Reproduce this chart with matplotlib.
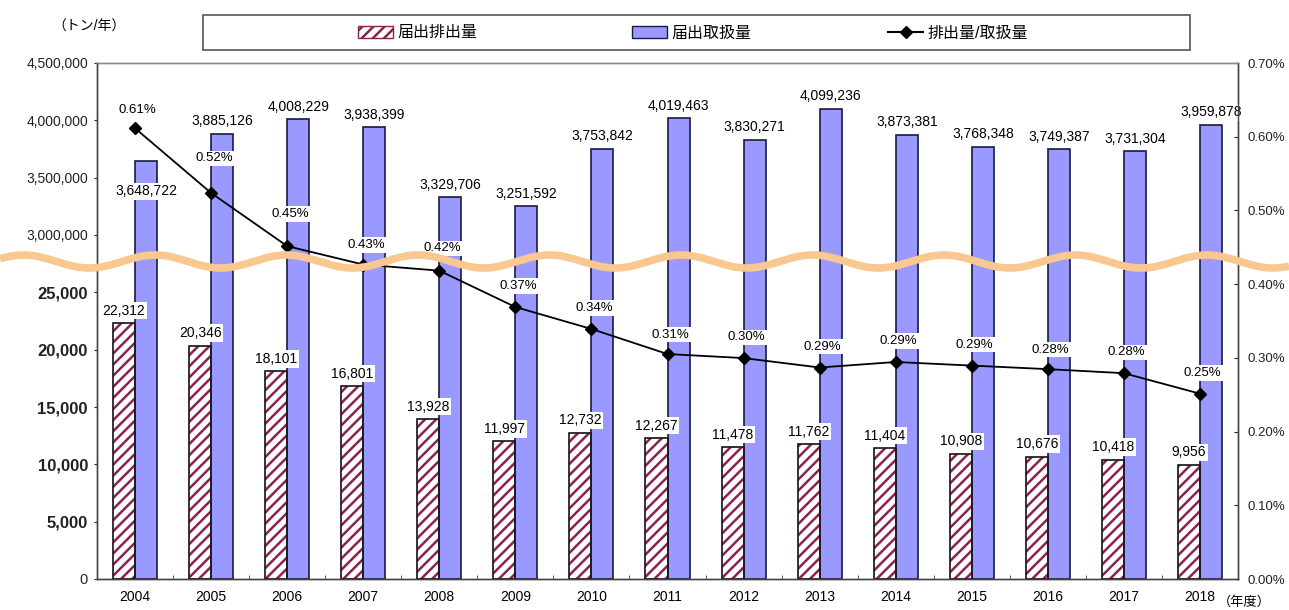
import numpy as np
import matplotlib
matplotlib.use("Agg")
import matplotlib.pyplot as plt
from matplotlib.patches import Patch, Rectangle
from matplotlib.lines import Line2D

plt.rcParams['font.family'] = ['Liberation Sans', 'Noto Sans CJK JP']
plt.rcParams['hatch.linewidth'] = 1.8

# data
years = ['2004', '2005', '2006', '2007', '2008', '2009', '2010', '2011',
         '2012', '2013', '2014', '2015', '2016', '2017', '2018']
release = [22312, 20346, 18101, 16801, 13928, 11997, 12732, 12267,
           11478, 11762, 11404, 10908, 10676, 10418, 9956]
handled = [3648722, 3885126, 4008229, 3938399, 3329706, 3251592, 3753842, 4019463,
           3830271, 4099236, 3873381, 3768348, 3749387, 3731304, 3959878]
ratio = [0.6115, 0.5237, 0.4516, 0.4266, 0.4183, 0.3690, 0.3392, 0.3052,
         0.2997, 0.2869, 0.2944, 0.2895, 0.2847, 0.2792, 0.2514]
left_ticks = [0, 5000, 10000, 15000, 20000, 25000, 3000000, 3500000, 4000000, 4500000]

HATCH_C = '#8B2252'
BLUE = '#9999FF'
WAVE_C = '#F9C890'

# broken left axis: 0..27,500 below the wave, 2,750,000..4,500,000 above
GAP = 1e-4
def fwd(v):
    v = np.asarray(v, dtype=float)
    low = v / 5000.0
    mid = 5.5 + (v - 27500.0) / (2750000.0 - 27500.0) * GAP
    high = 5.5 + GAP + (v - 2750000.0) / 500000.0
    return np.where(v <= 27500, low, np.where(v >= 2750000, high, mid))

def inv(u):
    u = np.asarray(u, dtype=float)
    low = u * 5000.0
    mid = 27500.0 + (u - 5.5) / GAP * (2750000.0 - 27500.0)
    high = 2750000.0 + (u - 5.5 - GAP) * 500000.0
    return np.where(u <= 5.5, low, np.where(u >= 5.5 + GAP, high, mid))

W, H = 1289, 610
fig = plt.figure(figsize=(W / 100, H / 100), dpi=100)
ax = fig.add_axes([97 / W, 1 - 579 / H, (1238 - 97) / W, (579 - 63) / H])
ax.set_yscale('function', functions=(fwd, inv))
ax.set_ylim(0, 4500000)
ax.set_xlim(-0.5, len(years) - 0.5)

x = np.arange(len(years))
w = 0.29
ax.bar(x - w / 2, release, w, color='white', edgecolor=HATCH_C, linewidth=0.3, hatch='///', zorder=2)
ax.bar(x - w / 2, release, w, fill=False, edgecolor='#1a1a1a', linewidth=1.2, zorder=3)
ax.bar(x + w / 2, handled, w, color=BLUE, edgecolor='#1a1a40', linewidth=1.2, zorder=2)

lbl_box = dict(fc='white', ec='none', pad=1.2)
for i in range(len(years)):
    ax.annotate(f'{release[i]:,}', (x[i] - w / 2, release[i]), xytext=(0, 4),
                textcoords='offset points', ha='center', va='bottom', fontsize=10,
                bbox=lbl_box, zorder=4)
    if i == 0:
        off, va = (0, -22), 'center'
    else:
        off, va = (0, 4), 'bottom'
    ax.annotate(f'{handled[i]:,}', (x[i] + w / 2, handled[i]), xytext=off,
                textcoords='offset points', ha='center', va=va, fontsize=10,
                bbox=lbl_box, zorder=4)

ax.set_yticks(left_ticks)
ax.set_yticklabels([f'{v:,}' for v in left_ticks])
for lab, v in zip(ax.get_yticklabels(), left_ticks):
    if 0 < v <= 25000:
        lab.set_fontsize(12)
        lab.set_fontweight('bold')
    elif v == 0:
        lab.set_fontsize(10.5)
    else:
        lab.set_fontsize(10)
ax.tick_params(axis='y', direction='out', length=2.5, pad=4, colors='#222222')
ax.yaxis.set_minor_locator(matplotlib.ticker.NullLocator())

ax.set_xticks(x)
ax.set_xticklabels(years, fontsize=10)
ax.set_xticks(np.arange(-0.5, len(years), 1.0), minor=True)
ax.tick_params(axis='x', which='major', length=0, pad=8)
ax.tick_params(axis='x', which='minor', direction='in', length=3, color='#444444')

# ratio line on right axis
ax2 = ax.twinx()
ax2.set_ylim(0, 0.7)
ax2.plot(x, ratio, color='black', marker='D', markersize=6.5, linewidth=1.3, zorder=5)
pct_off = [13, 25, 23, 14, 16, 15, 15, 14, 15, 15, 15, 15, 14, 15, 15]
for i in range(len(years)):
    ax2.annotate(f'{ratio[i]:.2f}%', (x[i], ratio[i]), xytext=(2, pct_off[i]),
                 textcoords='offset points', ha='center', va='center', fontsize=9.5,
                 bbox=lbl_box, zorder=6)
ax2.set_yticks(np.arange(0, 0.71, 0.1))
ax2.yaxis.set_major_formatter(matplotlib.ticker.FuncFormatter(lambda v, p: f'{v:.2f}%'))
ax2.tick_params(axis='y', direction='in', length=3, pad=7, labelsize=9.5, colors='#222222')

for a in (ax, ax2):
    for s in a.spines.values():
        s.set_color('#444444')
        s.set_linewidth(1.0)
    a.spines['top'].set_color('#888888')

# wavy break mark across the whole figure
xs = np.linspace(0, W, 600)
ys = 261.5 - 6.5 * np.cos(2 * np.pi * (xs - 155) / 131.5)
fig.add_artist(Line2D(xs / W, 1 - ys / H, transform=fig.transFigure, color=WAVE_C,
                      linewidth=5.5, solid_capstyle='butt', zorder=10))

# legend box with three entries
fig.add_artist(Rectangle((203 / W, 1 - 50 / H), (1190 - 203) / W, 35 / H,
                         transform=fig.transFigure, fill=False, edgecolor='#555555',
                         linewidth=1.2))
h1 = Patch(facecolor='white', edgecolor=HATCH_C, hatch='///', linewidth=1.0)
h2 = Patch(facecolor=BLUE, edgecolor='#1a1a40', linewidth=1.0)
h3 = Line2D([], [], color='black', marker='D', markersize=6)
for h, t, xp in [(h1, '届出排出量', 358), (h2, '届出取扱量', 632), (h3, '排出量/取扱量', 888)]:
    fig.legend(handles=[h], labels=[t], loc='center left', bbox_to_anchor=(xp / W, 1 - 33 / H),
               frameon=False, fontsize=11.5, borderpad=0, borderaxespad=0,
               handlelength=2.2, handleheight=0.8, handletextpad=0.3)

fig.text(52 / W, 1 - 27 / H, '（トン/年）', fontsize=10, ha='left', va='center')
fig.text(1218 / W, 1 - 602 / H, '（年度）', fontsize=9.5, ha='left', va='center')

fig.savefig('out.png', dpi=100)
